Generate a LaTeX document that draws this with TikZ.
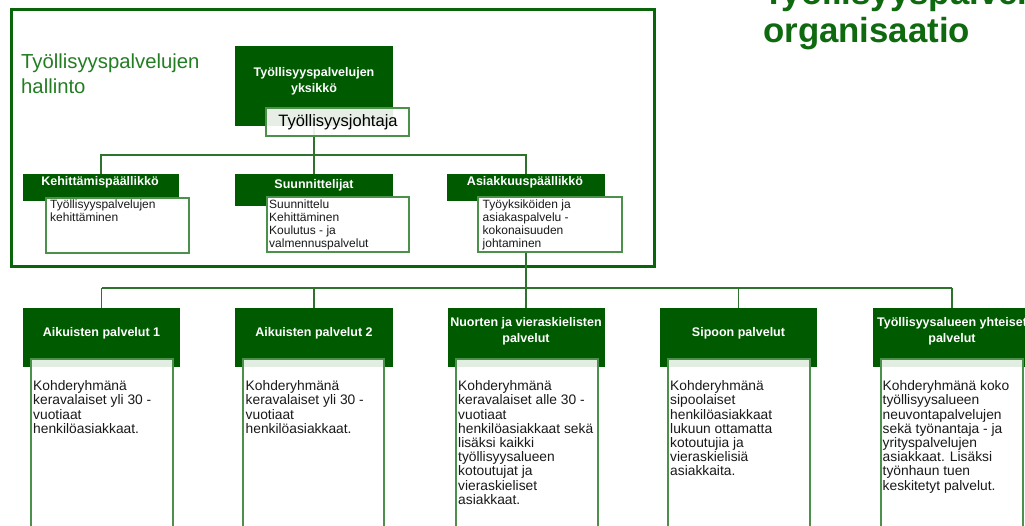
\documentclass[tikz,border=0pt]{standalone}
\usepackage{fontspec}
\setmainfont{Liberation Sans}
\definecolor{dkgreen}{RGB}{0,90,0}
\definecolor{framegreen}{RGB}{10,100,10}
\definecolor{titlegreen}{RGB}{15,105,15}
\definecolor{halgreen}{RGB}{35,125,35}
\definecolor{linegreen}{RGB}{45,115,45}
\definecolor{bordergreen}{RGB}{75,145,75}
\definecolor{bandgreen}{RGB}{226,238,226}
\newcommand\tstrut[1]{\rule{0pt}{#1}}
\tikzset{
  darkbox/.style={fill=dkgreen, draw=none, inner sep=0, outer sep=0, anchor=north west},
  whitebox/.style={fill=white, draw=bordergreen, line width=1.2pt, inner sep=0, outer sep=0, anchor=north west},
  bandbox/.style={whitebox, path picture={\fill[bandgreen] (path picture bounding box.north west) rectangle ([yshift=-8pt]path picture bounding box.north east);}},
  conn/.style={draw=linegreen, line width=1.5pt},
  busline/.style={draw=linegreen, line width=2.2pt},
  lbl/.style={text=white, font=\bfseries\fontsize{12.5}{16}\selectfont, inner sep=0, align=center},
  body/.style={inner sep=0, anchor=north west, align=left, text=black!90, font=\fontsize{13.8}{14.2}\selectfont},
  small/.style={inner sep=0, anchor=north west, align=left, text=black!90, font=\fontsize{12}{13}\selectfont},
}
\begin{document}
\begin{tikzpicture}[x=1pt,y=-1pt]
\useasboundingbox (0,0) rectangle (1025,525);

% titles
\node[anchor=base west, inner sep=0, text=titlegreen, font=\bfseries\fontsize{34.8}{39}\selectfont] (ttl1) at (763,4) {Työllisyyspalvelujen};
\node[anchor=base west, inner sep=0, text=titlegreen, font=\bfseries\fontsize{34.8}{39}\selectfont] (ttl2) at (763,42.7) {organisaatio};

% frame
\draw[draw=framegreen, line width=3pt] (11.5,9.3) rectangle (654.7,266.5);
\node[anchor=base west, inner sep=0, text=halgreen, font=\fontsize{20.3}{24}\selectfont] (hal1) at (21,68.5) {Työllisyyspalvelujen};
\node[anchor=base west, inner sep=0, text=halgreen, font=\fontsize{20.3}{24}\selectfont] (hal2) at (21,93) {hallinto};

% box shapes (named) - created first for connectors
\node[darkbox, minimum width=158, minimum height=80] (top) at (235,46) {};
\node[darkbox, minimum width=156, minimum height=27] (kp) at (23,174) {};
\node[darkbox, minimum width=158, minimum height=32] (sn) at (235,174) {};
\node[darkbox, minimum width=158, minimum height=27] (ak) at (447,174) {};
\node[darkbox, minimum width=157, minimum height=59] (b1) at (23,308) {};
\node[darkbox, minimum width=158, minimum height=59] (b2) at (235,308) {};
\node[darkbox, minimum width=157, minimum height=59] (b3) at (447.5,308) {};
\node[darkbox, minimum width=157, minimum height=59] (b4) at (660,308) {};
\node[darkbox, minimum width=158, minimum height=59] (b5) at (873,308) {};

\coordinate (busT) at (314,155);
\coordinate (busB) at (526,288);

% connectors
\draw[conn] (top.south) -- (sn.north);
\draw[conn] (kp.north) |- (busT) -| (ak.north);
\draw[busline] (ak.south) -- (busB);
\draw[busline] (b1.north |- busB) -- (b5.north |- busB);
\draw[conn] (b1.north) -- (b1.north |- busB);
\draw[conn] (b2.north) -- (b2.north |- busB);
\draw[conn] (b3.north) -- (b3.north |- busB);
\draw[conn] (b4.north) -- (b4.north |- busB);
\draw[conn] (b5.north) -- (b5.north |- busB);

% white boxes
\node[whitebox, fill opacity=0.9, minimum width=143, minimum height=28] (tj) at (266,108) {};
\node[whitebox, minimum width=143, minimum height=55] (kpw) at (46,198) {};
\node[whitebox, minimum width=142, minimum height=55] (snw) at (267,197) {};
\node[whitebox, minimum width=144, minimum height=55] (akw) at (478,197) {};
\node[bandbox, minimum width=142, minimum height=180] (w1) at (31,359) {};
\node[bandbox, minimum width=141, minimum height=180] (w2) at (243,359) {};
\node[bandbox, minimum width=142, minimum height=180] (w3) at (456,359) {};
\node[bandbox, minimum width=142, minimum height=180] (w4) at (668,359) {};
\node[bandbox, minimum width=142, minimum height=180] (w5) at (881,359) {};

% labels in dark boxes
\node[lbl, anchor=north] (toptxt) at (314,66.5) {\tstrut{9.5pt}Työllisyyspalvelujen\\yksikkö};
\node[anchor=base, inner sep=0, font=\fontsize{16.5}{18}\selectfont] (tjtxt) at (338,126.5) {Työllisyysjohtaja};
\node[lbl, anchor=base] (kptxt) at (100,185.5) {Kehittämispäällikkö};
\node[lbl, anchor=base] (sntxt) at (314,188.5) {Suunnittelijat};
\node[lbl, anchor=base] (aktxt) at (525,185.5) {Asiakkuuspäällikkö};
\node[lbl, anchor=base] (b1txt) at (101.5,336.5) {Aikuisten palvelut 1};
\node[lbl, anchor=base] (b2txt) at (314,336.5) {Aikuisten palvelut 2};
\node[lbl, anchor=north] (b3txt) at (526,316.5) {\tstrut{9.5pt}Nuorten ja vieraskielisten\\palvelut};
\node[lbl, anchor=base] (b4txt) at (738.5,336.5) {Sipoon palvelut};
\node[lbl, anchor=north] (b5txt) at (952,316.5) {\tstrut{9.5pt}Työllisyysalueen yhteiset\\palvelut};

% texts in top white boxes
\node[small] (kpwtxt) at (50,199.5) {\tstrut{9pt}Työllisyyspalvelujen\\kehittäminen};
\node[small] (snwtxt) at (269,199) {\tstrut{9pt}Suunnittelu\\Kehittäminen\\Koulutus - ja\\valmennuspalvelut};
\node[small] (akwtxt) at (482.5,199) {\tstrut{9pt}Työyksiköiden ja\\asiakaspalvelu -\\kokonaisuuden\\johtaminen};

% texts in bottom white boxes
\node[body] (w1txt) at (33,380.5) {\tstrut{10pt}Kohderyhmänä\\keravalaiset yli 30 -\\vuotiaat\\henkilöasiakkaat.};
\node[body] (w2txt) at (245.5,380.5) {\tstrut{10pt}Kohderyhmänä\\keravalaiset yli 30 -\\vuotiaat\\henkilöasiakkaat.};
\node[body] (w3txt) at (458,380.5) {\tstrut{10pt}Kohderyhmänä\\keravalaiset alle 30 -\\vuotiaat\\henkilöasiakkaat sekä\\lisäksi kaikki\\työllisyysalueen\\kotoutujat ja\\vieraskieliset\\asiakkaat.};
\node[body] (w4txt) at (670,380.5) {\tstrut{10pt}Kohderyhmänä\\sipoolaiset\\henkilöasiakkaat\\lukuun ottamatta\\kotoutujia ja\\vieraskielisiä\\asiakkaita.};
\node[body] (w5txt) at (882.5,380.5) {\tstrut{10pt}Kohderyhmänä koko\\työllisyysalueen\\neuvontapalvelujen\\sekä työnantaja - ja\\yrityspalvelujen\\asiakkaat. Lisäksi\\työnhaun tuen\\keskitetyt palvelut.};
\end{tikzpicture}
\end{document}
